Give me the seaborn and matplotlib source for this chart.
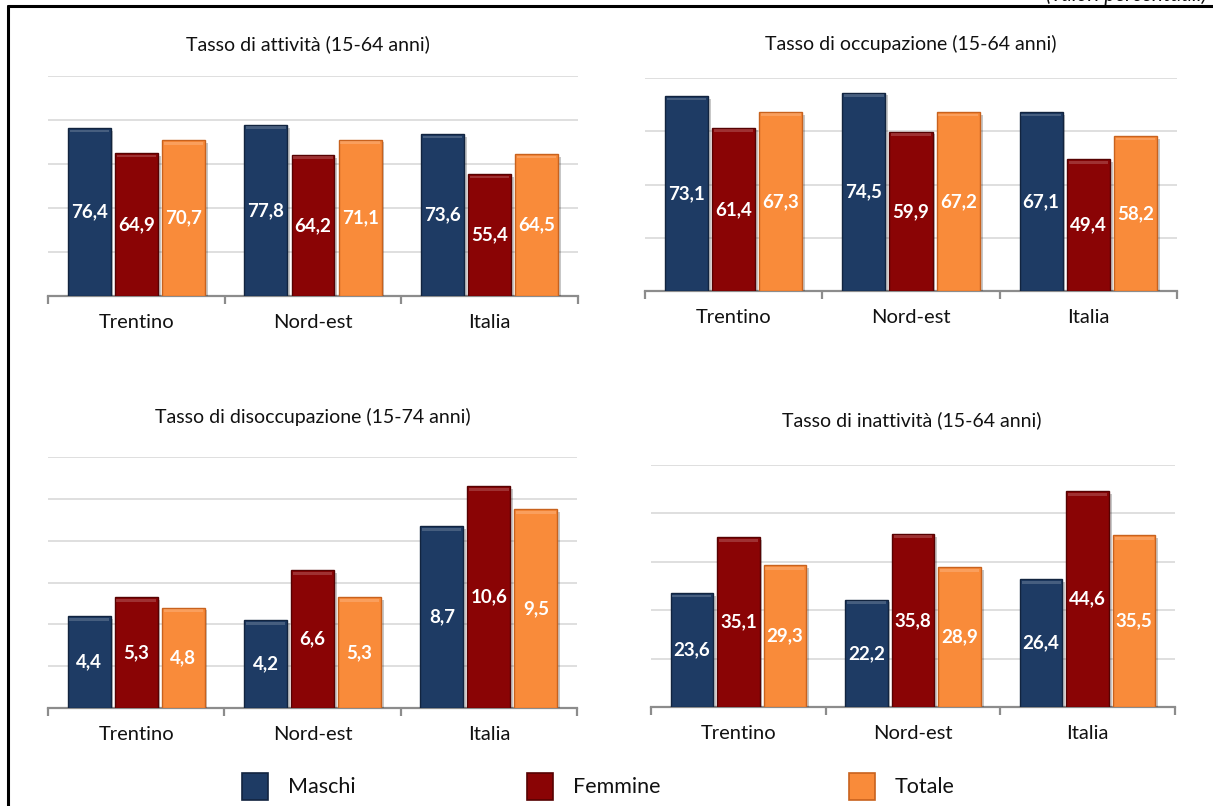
import matplotlib
matplotlib.use("Agg")
import matplotlib.pyplot as plt
import matplotlib.patheffects as pe
from matplotlib.patches import Rectangle
from matplotlib.lines import Line2D
import seaborn as sns
import pandas as pd
import numpy as np

# ---- data ----
areas = ["Trentino", "Nord-est", "Italia"]
groups = ["Maschi", "Femmine", "Totale"]

attivita_maschi = [76.4, 77.8, 73.6]
attivita_femmine = [64.9, 64.2, 55.4]
attivita_totale = [70.7, 71.1, 64.5]

occupazione_maschi = [73.1, 74.5, 67.1]
occupazione_femmine = [61.4, 59.9, 49.4]
occupazione_totale = [67.3, 67.2, 58.2]

disoccupazione_maschi = [4.4, 4.2, 8.7]
disoccupazione_femmine = [5.3, 6.6, 10.6]
disoccupazione_totale = [4.8, 5.3, 9.5]

inattivita_maschi = [23.6, 22.2, 26.4]
inattivita_femmine = [35.1, 35.8, 44.6]
inattivita_totale = [29.3, 28.9, 35.5]

titles = [
    "Tasso di attività (15-64 anni)",
    "Tasso di occupazione (15-64 anni)",
    "Tasso di disoccupazione (15-74 anni)",
    "Tasso di inattività (15-64 anni)",
]
y_max = [100, 80, 12, 50]
y_step = [20, 20, 2, 10]

colors = {"Maschi": "#1E3B64", "Femmine": "#8A0405", "Totale": "#F98B3A"}
edges = {"Maschi": "#12243F", "Femmine": "#560202", "Totale": "#C8621E"}


def long_frame(m, f, t):
    rows = []
    for g, vals in zip(groups, [m, f, t]):
        for a, v in zip(areas, vals):
            rows.append({"area": a, "gruppo": g, "valore": v})
    return pd.DataFrame(rows)


frames = [
    long_frame(attivita_maschi, attivita_femmine, attivita_totale),
    long_frame(occupazione_maschi, occupazione_femmine, occupazione_totale),
    long_frame(disoccupazione_maschi, disoccupazione_femmine, disoccupazione_totale),
    long_frame(inattivita_maschi, inattivita_femmine, inattivita_totale),
]

# ---- figure ----
W, H = 1213, 806
sns.set_theme(style="white")
plt.rcParams["font.family"] = ["Lato", "DejaVu Sans"]

fig = plt.figure(figsize=(W / 100, H / 100), dpi=100)


def rect(l, t, r, b):
    return [l / W, 1 - b / H, (r - l) / W, (b - t) / H]


panel_boxes = [
    rect(48, 76, 578, 296),
    rect(645, 78, 1177, 291),
    rect(48, 457, 577, 708),
    rect(651, 465, 1175, 707),
]
title_pos = [(308, 44), (911, 44), (313, 417), (912, 420)]

for df, box, title, tp, ymx, ystep in zip(frames, panel_boxes, titles, title_pos, y_max, y_step):
    ax = fig.add_axes(box)
    sns.barplot(
        data=df, x="area", y="valore", hue="gruppo", order=areas,
        hue_order=groups, palette=colors, saturation=1, width=0.8, gap=0.09,
        legend=False, ax=ax, zorder=3,
    )
    for cont, g in zip(ax.containers, groups):
        for p in cont:
            p.set_edgecolor(edges[g])
            p.set_linewidth(1.0)
            p.set_path_effects([
                pe.SimplePatchShadow(offset=(2, -2), shadow_rgbFace="#000000", alpha=0.22),
                pe.Normal(),
            ])
            # light bevel strip along the top of each bar
            x0, w, h = p.get_x(), p.get_width(), p.get_height()
            strip = ymx * 0.012
            ax.add_patch(Rectangle((x0 + w * 0.04, h - strip * 1.6), w * 0.92, strip,
                                   facecolor="white", alpha=0.18, lw=0, zorder=4))
        ax.bar_label(
            cont, labels=[f"{v:.1f}".replace(".", ",") for v in cont.datavalues],
            label_type="center", color="white", fontsize=13.5, fontweight="bold", zorder=5,
        )

    ax.set_ylim(0, ymx)
    ax.set_xlim(-0.5, 2.5)
    ax.set_yticks(np.arange(ystep, ymx + ystep / 2, ystep))
    ax.set_yticklabels([])
    ax.tick_params(axis="y", length=0)
    ax.grid(axis="y", color="#D9D9D9", lw=1.2, zorder=0)
    ax.set_axisbelow(True)
    for s in ["top", "right", "left"]:
        ax.spines[s].set_visible(False)
    ax.spines["bottom"].set_color("#8C8C8C")
    ax.spines["bottom"].set_linewidth(1.6)
    ax.set_xticks([0, 1, 2])
    ax.set_xticklabels(areas, fontsize=14.5, color="#111111")
    ax.set_xticks([-0.5, 0.5, 1.5, 2.5], minor=True)
    ax.tick_params(axis="x", which="major", length=0, pad=13)
    ax.tick_params(axis="x", which="minor", length=6, width=1.6, color="#8C8C8C",
                   direction="out", bottom=True)
    ax.set_xlabel("")
    ax.set_ylabel("")
    fig.text(tp[0] / W, 1 - tp[1] / H, title, ha="center", va="center",
             fontsize=14, color="#111111")

# ---- legend ----
leg_items = [("Maschi", 255, 288), ("Femmine", 540, 573), ("Totale", 862, 895)]
for name, cx, tx in leg_items:
    sq = Rectangle(((cx - 13) / W, 1 - 800 / H), 26 / W, 27 / H, transform=fig.transFigure,
                   facecolor=colors[name], edgecolor=edges[name], lw=1.2)
    fig.add_artist(sq)
    fig.text(tx / W, 1 - 787 / H, name, ha="left", va="center", fontsize=15.5, color="#111111")

# ---- frame lines and unit note ----
fig.add_artist(Line2D([8 / W, 1.0], [1 - 6 / H, 1 - 6 / H], transform=fig.transFigure,
                      color="black", lw=2.2))
fig.add_artist(Line2D([8 / W, 8 / W], [1 - 6 / H, 0], transform=fig.transFigure,
                      color="black", lw=2.2))
fig.text(1207 / W, 1 - 1 / H, "(valori percentuali)", ha="right", va="baseline",
         fontsize=15, style="italic", color="#111111")

fig.savefig("out.png", dpi=100)
